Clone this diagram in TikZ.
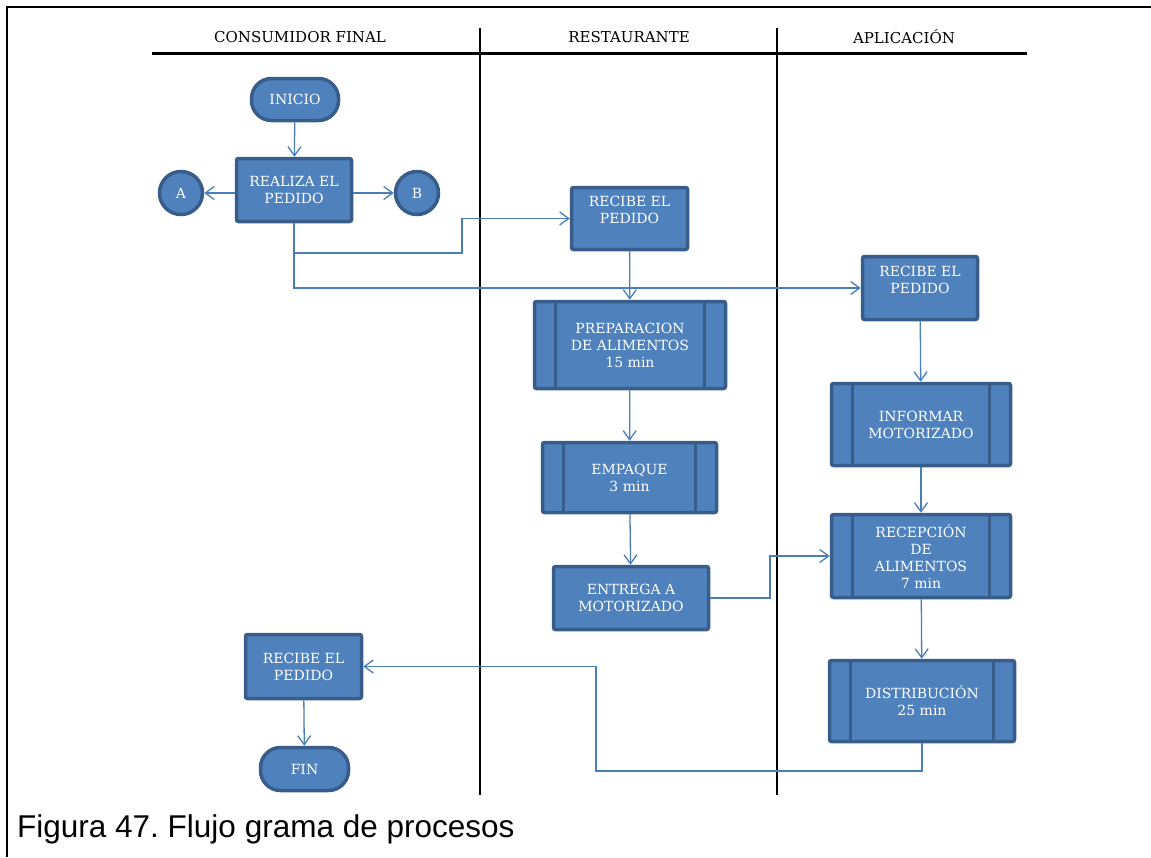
\documentclass[tikz,border=0pt]{standalone}
\usepackage{fontspec}
\newfontfamily\boxfont{DejaVu Serif}
\newfontfamily\capfont{Liberation Sans}
\usetikzlibrary{arrows.meta}
\frenchspacing

\definecolor{procfill}{RGB}{79,129,189}
\definecolor{procedge}{RGB}{56,93,138}
\definecolor{linkblue}{RGB}{74,126,187}

\tikzset{
  proc/.style={rectangle, rounded corners=2pt, fill=procfill, draw=procedge, line width=3.5pt,
    text=white, align=center, inner sep=0pt, font=\boxfont\fontsize{14}{17}\selectfont},
  term/.style={proc, rounded corners=20pt},
  conn/.style={proc, circle},
  link/.style={draw=linkblue, line width=1.3pt, -{Straight Barb[length=9pt,width=13pt]}},
  lane/.style={line width=2pt},
  lanetitle/.style={font=\boxfont\fontsize{15}{18}\selectfont, inner sep=0pt}
}

\begin{document}
\begin{tikzpicture}[x=1pt,y=1pt,yscale=-1]
  \useasboundingbox (0,0) rectangle (1151,857);

  %Frame
  \draw [line width=2pt] (1151,7) -- (7,7) -- (7,857);

  %Lanes
  \draw [line width=3pt] (152,53) -- (1027,53);
  \draw [lane] (480,28) -- (480,795);
  \draw [lane] (777,28) -- (777,795);

  % Text Node
  \node [lanetitle] (consumidor) at (300,37) {CONSUMIDOR FINAL};
  % Text Node
  \node [lanetitle] (restaurante) at (629,37) {RESTAURANTE};
  % Text Node
  \node [lanetitle] (aplicacion) at (904,37) {APLICACIÓN};

  %Consumidor final
  \node [term, minimum width=87pt, minimum height=42pt] (inicio) at (295,99.5) {INICIO};
  \node [proc, minimum width=115pt, minimum height=63pt] (realiza) at (294,190) {REALIZA EL\\PEDIDO};
  \node [conn, minimum size=43pt] (A) at (181,193) {A};
  \node [conn, minimum size=43pt] (B) at (417,193) {B};
  \node [proc, minimum width=116pt, minimum height=64pt] (recibeC) at (303.5,666.5) {RECIBE EL\\PEDIDO};
  \node [term, minimum width=88pt, minimum height=43pt] (fin) at (304.5,769) {FIN};

  %Restaurante
  \node [proc, minimum width=116pt, minimum height=62pt] (recibeR) at (629.5,218.5) {RECIBE EL\\PEDIDO\\ };
  \node [proc, minimum width=191pt, minimum height=87pt] (prep) at (630,345) {PREPARACION\\DE ALIMENTOS\\15 min};
  \node [proc, minimum width=174pt, minimum height=70pt] (empaque) at (629.5,477.5) {EMPAQUE\\3 min};
  \node [proc, minimum width=155pt, minimum height=63pt] (entrega) at (631,598) {ENTREGA A\\MOTORIZADO};

  %Aplicacion
  \node [proc, minimum width=115pt, minimum height=63pt] (recibeA) at (920,288) {RECIBE EL\\PEDIDO\\ };
  \node [proc, minimum width=179pt, minimum height=82pt] (informar) at (921,424.5) {INFORMAR\\MOTORIZADO};
  \node [proc, minimum width=179pt, minimum height=83pt] (recepcion) at (921,556) {RECEPCIÓN\\DE\\ALIMENTOS\\7 min};
  \node [proc, minimum width=185pt, minimum height=81pt] (distrib) at (922,701) {DISTRIBUCIÓN\\25 min};

  %Subprocess bars
  \foreach \n in {prep,empaque,informar,recepcion,distrib} {
    \draw [procedge, line width=3pt] ([xshift=22.5pt]\n.north west) -- ([xshift=22.5pt]\n.south west);
    \draw [procedge, line width=3pt] ([xshift=-22.5pt]\n.north east) -- ([xshift=-22.5pt]\n.south east);
  }

  %Bends
  \coordinate (cruce) at (462,253);
  \coordinate (codoE) at (770,598);
  \coordinate (retorno) at (596,771);

  %Straight Lines
  \draw [link] (inicio) -- (realiza);
  \draw [link] (realiza.west |- A) -- (A);
  \draw [link] (realiza.east |- B) -- (B);
  \draw [link] (realiza.south) |- (cruce) |- (recibeR.west);
  \draw [link] (realiza.south) |- (recibeA.west);
  \draw [link] (recibeR) -- (prep);
  \draw [link] (prep) -- (empaque);
  \draw [link] (empaque) -- (entrega);
  \draw [link] (entrega.east) -- (codoE) |- (recepcion.west);
  \draw [link] (recibeA) -- (informar);
  \draw [link] (informar) -- (recepcion);
  \draw [link] (recepcion) -- (distrib);
  \draw [link] (distrib.south) |- (retorno) |- (recibeC.east);
  \draw [link] (recibeC) -- (fin);

  % Text Node
  \node [anchor=base west, inner sep=0pt, font=\capfont\fontsize{31.5}{36}\selectfont] (caption) at (17,837) {Figura 47. Flujo grama de procesos};
\end{tikzpicture}
\end{document}
